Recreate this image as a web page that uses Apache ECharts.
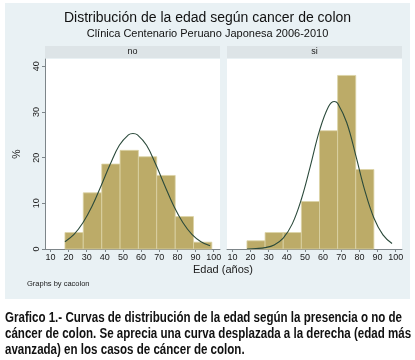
<!DOCTYPE html>
<html>
<head>
<meta charset="utf-8">
<script src="https://cdn.jsdelivr.net/npm/echarts@6/dist/echarts.min.js"></script>
<style>
  html, body { margin: 0; background: #fff; }
  #chart { width: 415px; height: 360px; }
</style>
</head>
<body>
<div id="chart"></div>
<script>
// Histogram bins (age edges) and percent per bin, one pair per panel
const panels = ['no', 'si'];
const binEdgesNo = [18, 28.1, 38.3, 48.4, 58.5, 68.6, 78.8, 88.9, 99];
const pctNo = [3.6, 12.3, 18.6, 21.6, 20.2, 16.1, 7.1, 1.5];
const binEdgesSi = [18, 28, 38, 48, 58, 68, 78, 88];
const pctSi = [1.8, 3.6, 3.6, 10.4, 25.9, 38.0, 17.4];

// Normal overlay
const curveAgeNo = [18, 23, 28, 33, 38, 43, 48, 53, 55.5, 58, 63, 68, 73, 78, 83, 88, 93, 98];
const curveNo = [1.6, 3.2, 5.8, 9.4, 13.9, 18.6, 22.7, 25.0, 25.3, 25.0, 22.7, 18.6, 13.9, 9.4, 5.8, 3.2, 1.6, 0.7];
const curveAgeSi = [18, 23, 28, 33, 38, 43, 48, 53, 58, 63, 66.2, 68, 73, 78, 83, 88, 93, 98];
const curveSi = [0.0, 0.1, 0.3, 0.9, 2.4, 5.5, 10.9, 18.2, 25.9, 31.2, 32.3, 31.9, 27.7, 20.5, 12.8, 6.8, 3.1, 1.2];

const xTicks = [10, 20, 30, 40, 50, 60, 70, 80, 90, 100];
const yTicks = [0, 10, 20, 30, 40];

const captionLines = [
  'Grafico 1.- Curvas de distribución de la edad según la presencia o no de',
  'cáncer de colon. Se aprecia una curva desplazada a la derecha (edad más',
  'avanzada) en los casos de cáncer de colon.',
];

const font = 'Liberation Sans, Arial, sans-serif';
const barFill = '#bcab68';
const lineColor = '#2b4a3b';

function toBins(edges, pct) {
  return pct.map((v, i) => [edges[i], edges[i + 1], v]);
}

function renderBin(params, api) {
  const top = api.coord([api.value(0), api.value(2)]);
  const bottom = api.coord([api.value(1), 0]);
  return {
    type: 'rect',
    shape: { x: top[0], y: top[1], width: bottom[0] - top[0], height: bottom[1] - top[1] },
    style: { fill: barFill, stroke: '#dcd3a6', lineWidth: 0.8 },
  };
}

// the caption is a condensed bold face; squeeze Liberation Sans Bold to the same width
const captionFont = 'bold 14px "Liberation Sans", Arial, sans-serif';
const ctx = document.createElement('canvas').getContext('2d');
ctx.font = captionFont;
const captionScale = 397 / ctx.measureText(captionLines[0]).width;

const chart = echarts.init(document.getElementById('chart'), null, { renderer: 'canvas' });

const grids = [
  { left: 45, top: 59, width: 175, height: 190 },
  { left: 227, top: 59, width: 175, height: 190 },
].map((g) => ({ ...g, show: true, backgroundColor: '#fff', borderWidth: 0 }));

const xAxes = panels.map((p, i) => ({
  type: 'value',
  gridIndex: i,
  min: 7,
  max: 103.5,
  axisLine: { show: true, onZero: false, lineStyle: { color: '#7d8589', width: 1 } },
  axisTick: { show: true, length: 3, customValues: xTicks, lineStyle: { color: '#7d8589' } },
  axisLabel: { customValues: xTicks, color: '#1a1a1a', fontSize: 9, fontFamily: font, margin: 4 },
  splitLine: { show: false },
}));

const yAxes = panels.map((p, i) => ({
  type: 'value',
  gridIndex: i,
  min: 0,
  max: 41.6,
  show: i === 0,
  name: i === 0 ? '%' : '',
  nameLocation: 'middle',
  nameRotate: 90,
  nameGap: 22,
  nameTextStyle: { fontSize: 10.5, color: '#1a1a1a', fontFamily: font },
  axisLine: { show: true, lineStyle: { color: '#7d8589', width: 1 } },
  axisTick: { show: true, length: 3, customValues: yTicks, lineStyle: { color: '#7d8589' } },
  axisLabel: { customValues: yTicks, rotate: 90, color: '#1a1a1a', fontSize: 9, fontFamily: font, margin: 4 },
  splitLine: { show: false },
}));

const series = [
  { type: 'custom', xAxisIndex: 0, yAxisIndex: 0, renderItem: renderBin, data: toBins(binEdgesNo, pctNo), silent: true },
  { type: 'custom', xAxisIndex: 1, yAxisIndex: 1, renderItem: renderBin, data: toBins(binEdgesSi, pctSi), silent: true },
  {
    type: 'line', xAxisIndex: 0, yAxisIndex: 0, smooth: 0.4, symbol: 'none',
    data: curveAgeNo.map((a, i) => [a, curveNo[i]]),
    lineStyle: { color: lineColor, width: 1.1 },
  },
  {
    type: 'line', xAxisIndex: 1, yAxisIndex: 1, smooth: 0.4, symbol: 'none',
    data: curveAgeSi.map((a, i) => [a, curveSi[i]]),
    lineStyle: { color: lineColor, width: 1.1 },
  },
];

const stripStyle = { fill: '#dde4e7' };
const graphic = [
  { type: 'rect', z: -10, shape: { x: 5, y: 3, width: 405, height: 296 }, style: { fill: '#e9f1f4' } },
  { type: 'rect', shape: { x: 45, y: 46, width: 175, height: 12 }, style: stripStyle },
  { type: 'rect', shape: { x: 227, y: 46, width: 175, height: 12 }, style: stripStyle },
  { type: 'text', x: 132.5, y: 52, style: { text: panels[0], fontSize: 9, fontFamily: font, fill: '#1a1a1a', align: 'center', verticalAlign: 'middle' } },
  { type: 'text', x: 314.5, y: 52, style: { text: panels[1], fontSize: 9, fontFamily: font, fill: '#1a1a1a', align: 'center', verticalAlign: 'middle' } },
  { type: 'text', x: 223, y: 270, style: { text: 'Edad (años)', fontSize: 11, fontFamily: font, fill: '#1a1a1a', align: 'center', verticalAlign: 'middle' } },
  { type: 'text', x: 27, y: 284, style: { text: 'Graphs by cacolon', fontSize: 7.5, fontFamily: font, fill: '#1a1a1a', verticalAlign: 'middle' } },
  {
    type: 'text', x: 5, y: 310, scaleX: captionScale,
    style: {
      text: captionLines.join('\n'),
      font: captionFont, lineHeight: 16,
      fill: '#111',
    },
  },
];

chart.setOption({
  animation: false,
  backgroundColor: '#fff',
  title: {
    left: 'center', top: 6, itemGap: 3,
    text: 'Distribución de la edad según cancer de colon',
    subtext: 'Clínica Centenario Peruano Japonesa 2006-2010',
    textStyle: { fontSize: 14, fontWeight: 'normal', color: '#111', fontFamily: font },
    subtextStyle: { fontSize: 11, color: '#111', fontFamily: font },
  },
  grid: grids,
  xAxis: xAxes,
  yAxis: yAxes,
  series,
  graphic,
});
</script>
</body>
</html>
